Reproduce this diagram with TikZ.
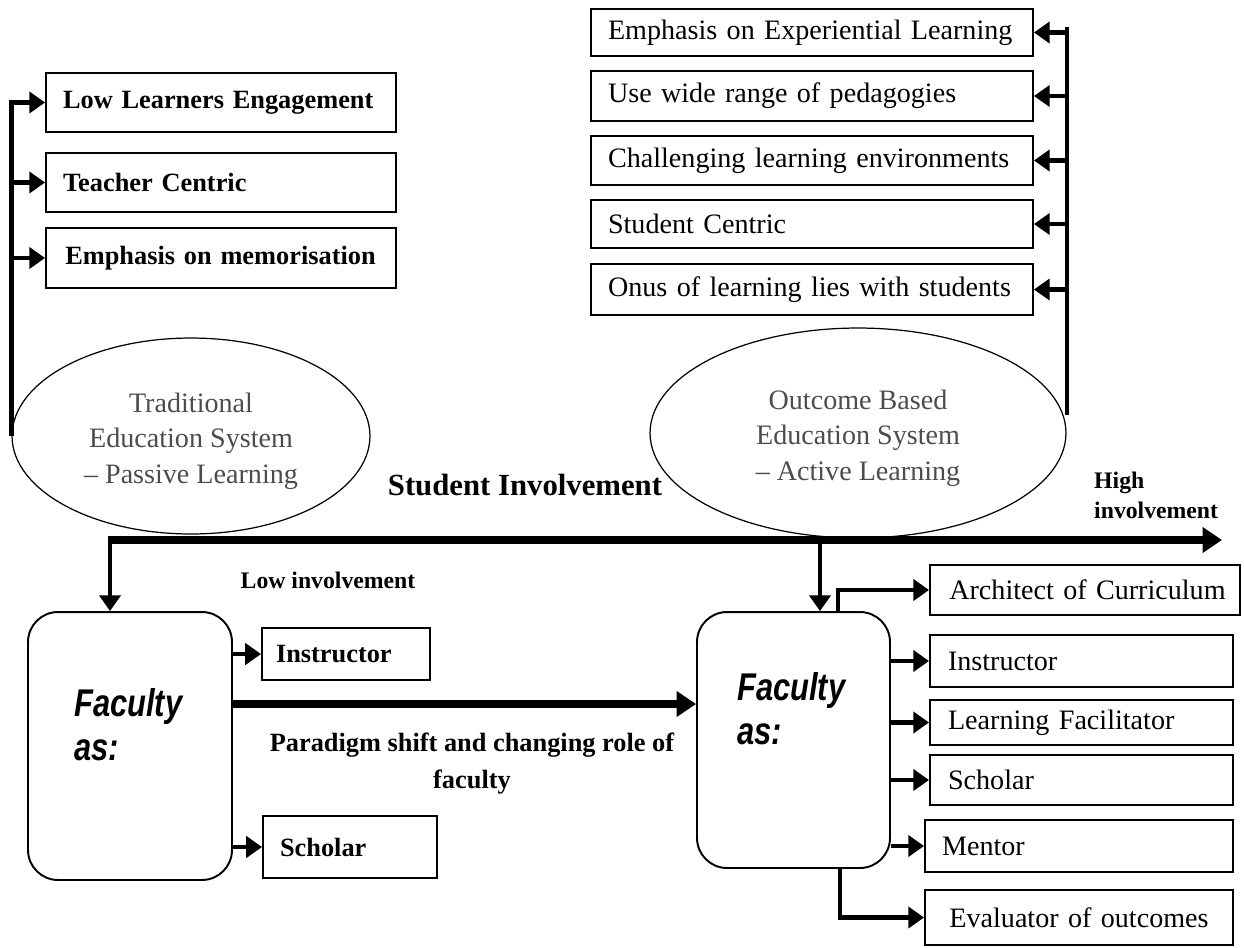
\documentclass[tikz,border=0pt]{standalone}
\usepackage{fontspec}
\setmainfont{Liberation Serif}
\newfontfamily\facfont[FakeStretch=0.8]{Liberation Sans}
\usetikzlibrary{shapes.geometric,arrows.meta}
\hyphenpenalty=10000

\begin{document}
\begin{tikzpicture}[x=0.02cm,y=-0.02cm]
            \tikzstyle{box}=[draw=black,line width=1.1pt,inner xsep=0.34cm,align=left]
            \tikzstyle{lbox}=[box,font=\fontsize{15}{18}\selectfont\bfseries]
            \tikzstyle{rbox}=[box,font=\fontsize{16}{19}\selectfont]
            \tikzstyle{oval}=[ellipse,draw=black,line width=0.7pt,inner sep=0pt,align=center,text=black!70,font=\fontsize{16}{20.4}\selectfont]
            \tikzstyle{faculty}=[draw=black,line width=1.1pt,rounded corners=0.6cm]
            \tikzstyle{factext}=[anchor=west,align=left,font=\facfont\bfseries\itshape\fontsize{22}{25}\selectfont]
            \tikzstyle{arr}=[line width=2.8pt,-{Triangle[length=9pt,width=12pt]}]
            \tikzstyle{bigarr}=[line width=4.5pt,-{Triangle[length=11pt,width=14pt]}]
            \useasboundingbox (0,0) rectangle (1244,947);

                    % passive side
                    \node[lbox,text width=6.32cm,minimum height=1.18cm] (lowEng) at (221,102.5) {Low Learners Engagement};
                    \node[lbox,text width=6.32cm,minimum height=1.18cm] (teach) at (221,182.5) {Teacher Centric};
                    \node[lbox,text width=6.44cm,inner xsep=0.28cm,minimum height=1.2cm] (memo) at (221,258) {\hspace{3pt}Emphasis on memorisation};
                    \node[oval,minimum width=7.16cm,minimum height=3.92cm] (trad) at (191,436) {\rule{0pt}{17pt}Traditional\\Education System\\-- Passive Learning};

                    % active side
                    \node[rbox,text width=8.16cm,minimum height=0.94cm] (exper) at (812,32.5) {Emphasis on Experiential Learning};
                    \node[rbox,text width=8.16cm,minimum height=1.0cm] (peda) at (812,96) {Use wide range of pedagogies};
                    \node[rbox,text width=8.16cm,minimum height=0.98cm] (chall) at (812,160.5) {Challenging learning environments};
                    \node[rbox,text width=8.16cm,minimum height=0.96cm] (stud) at (812,224) {Student Centric};
                    \node[rbox,text width=8.16cm,minimum height=1.02cm] (onus) at (812,289.5) {Onus of learning lies with students};
                    \node[oval,minimum width=8.32cm,minimum height=4.2cm] (obe) at (858,433) {\rule{0pt}{17pt}Outcome Based\\Education System\\-- Active Learning};
                    \coordinate (rRail) at (1067,415);

                    % involvement axis
                    \node[font=\fontsize{17.5}{20}\selectfont\bfseries] (invol) at (525,485) {Student Involvement};
                    \node[font=\fontsize{13.5}{16}\selectfont\bfseries] (lowInv) at (328,580) {Low involvement};
                    \node[anchor=west,align=left,font=\fontsize{13.5}{17}\selectfont\bfseries] (highInv) at (1088,495) {High\\involvement};
                    \coordinate (axL) at (110,540);
                    \coordinate (axM) at (820,540);
                    \coordinate (axR) at (1222,540);

                    % faculty roles
                    \node[faculty,minimum width=4.08cm,minimum height=5.36cm] (lfac) at (130,746) {};
                    \node[factext] (lfacText) at (68,725) {Faculty\\as:};
                    \node[lbox,text width=2.8cm,inner xsep=0.28cm,minimum height=1.04cm] (linst) at (346,654) {Instructor};
                    \node[lbox,text width=2.8cm,minimum height=1.24cm] (lsch) at (350,847) {Scholar};
                    \node[font=\fontsize{15}{21}\selectfont\bfseries,align=center] (shiftText) at (472,764) {Paradigm shift and changing role of\\faculty};

                    \node[faculty,minimum width=3.86cm,minimum height=5.12cm] (rfac) at (793.5,740) {};
                    \node[factext] (rfacText) at (731,709) {Faculty\\as:};
                    \node[rbox,text width=5.64cm,inner xsep=0.28cm,minimum height=1.0cm] (arch) at (1085,590) {\hspace{3pt}Architect of Curriculum};
                    \node[rbox,text width=5.34cm,inner xsep=0.36cm,minimum height=1.04cm] (rinst) at (1081.5,661) {Instructor};
                    \node[rbox,text width=5.34cm,inner xsep=0.36cm,minimum height=0.9cm] (facil) at (1081.5,722.5) {Learning Facilitator};
                    \node[rbox,text width=5.34cm,inner xsep=0.36cm,minimum height=1.0cm] (rsch) at (1081.5,780) {Scholar};
                    \node[rbox,text width=5.48cm,minimum height=1.04cm] (ment) at (1079,846) {Mentor};
                    \node[rbox,text width=5.48cm,align=center,minimum height=1.1cm] (eval) at (1079,917.5) {Evaluator of outcomes};
                    \coordinate (archUp) at (838,612);
                    \coordinate (evalDown) at (840,868);

                % rails and arrows
                \draw[arr] (trad.west) |- (lowEng.west);
                \foreach \to in {teach,memo}
                    \draw[arr] (trad.west |- \to.west) -- (\to.west);
                \draw[line width=2.6pt] (rRail) -- (rRail |- 0,27);
                \foreach \to in {exper,peda,chall,stud,onus}
                    \draw[arr] (rRail |- \to.east) -- (\to.east);

                \draw[bigarr] ([xshift=-1.4pt]axL) -- (axR);
                \draw[arr] (axL) -- (axL |- lfac.north);
                \draw[arr] (axM) -- (axM |- rfac.north);

                \foreach \to in {linst,lsch}
                    \draw[arr] (lfac.east |- \to.west) -- (\to.west);
                \draw[bigarr] (lfac.east |- 0,704) -- (rfac.west |- 0,704);

                \draw[arr] (archUp) |- (arch.west);
                \foreach \to in {rinst,facil,rsch,ment}
                    \draw[arr] (rfac.east |- \to.west) -- (\to.west);
                \draw[arr] (evalDown) |- (eval.west);
        \end{tikzpicture}
\end{document}
